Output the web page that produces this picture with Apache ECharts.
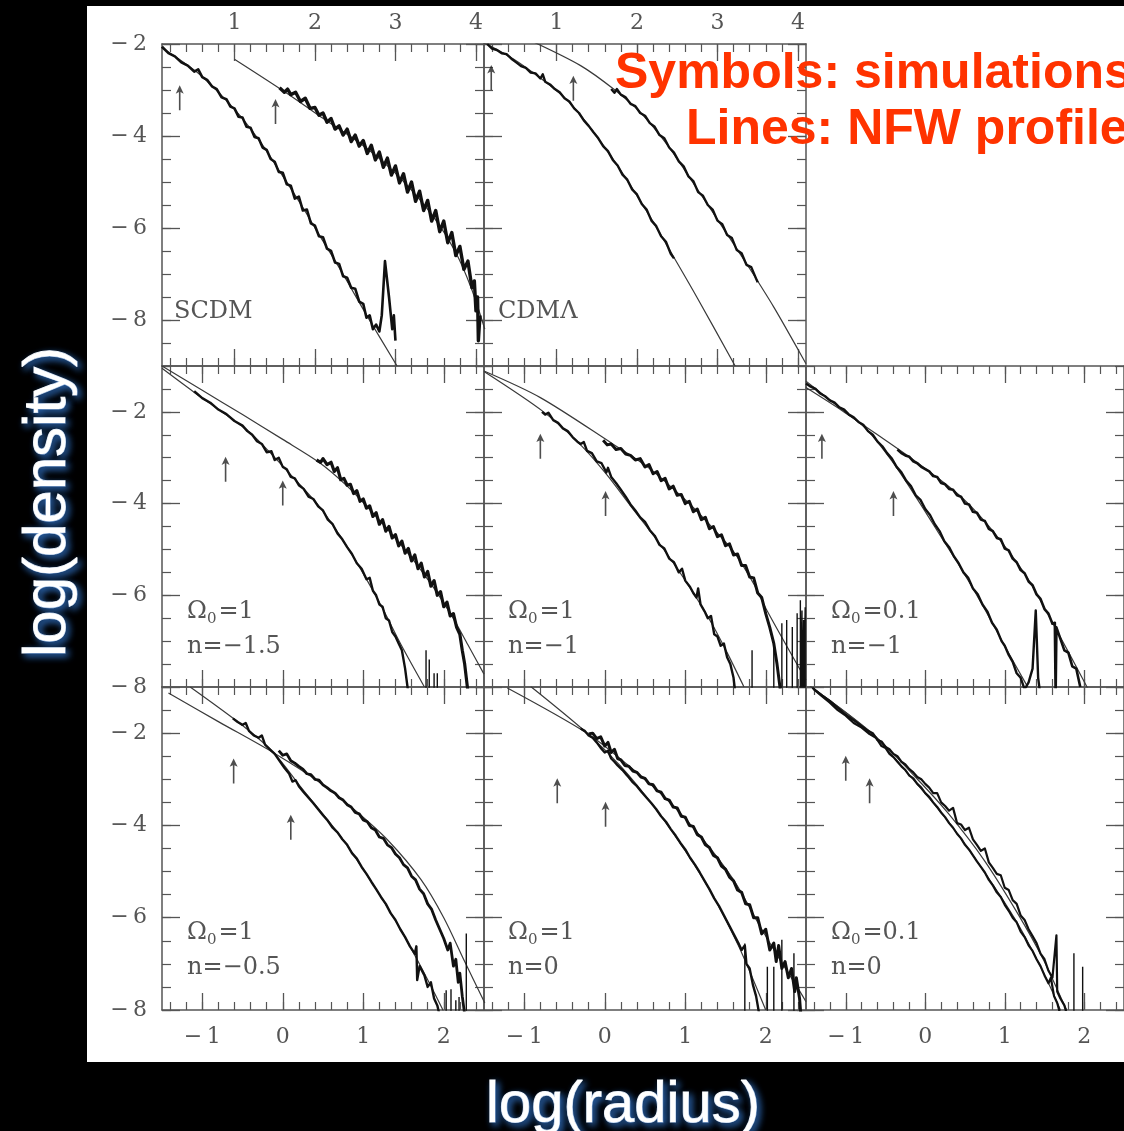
<!DOCTYPE html>
<html><head><meta charset="utf-8">
<script src="https://cdn.jsdelivr.net/npm/echarts@6/dist/echarts.min.js"></script>
<style>html,body{margin:0;padding:0;background:#000;}#c{width:1124px;height:1131px;}</style>
</head><body><div id="c"></div>
<script>
// ---------- tick labels ----------
const X_LABELS = [-1, 0, 1, 2];
const TOP_LABELS = [1, 2, 3, 4];
const Y_LABELS = [-8, -6, -4, -2];

// ---------- SCDM (top units on x) ----------
const scdmFitA = [[0.09,-2.07],[0.54,-2.62],[0.83,-3.1],[1.08,-3.58],[1.33,-4.15],[1.58,-4.82],[1.83,-5.5],[2.07,-6.2],[2.32,-6.92],[2.66,-7.95],[3.02,-9.0]];
const scdmSimA = [[0.1,-2.06],[0.18,-2.2],[0.26,-2.27],[0.34,-2.4],[0.42,-2.47],[0.5,-2.6],[0.55,-2.55],[0.6,-2.72],[0.66,-2.78],[0.72,-2.92],[0.78,-2.98],[0.84,-3.16],[0.9,-3.2],[0.95,-3.36],[1.0,-3.4],[1.05,-3.58],[1.1,-3.6],[1.15,-3.8],[1.2,-3.82],[1.25,-4.02],[1.3,-4.05],[1.35,-4.25],[1.4,-4.3],[1.45,-4.5],[1.5,-4.56],[1.55,-4.78],[1.6,-4.8],[1.65,-5.05],[1.7,-5.08],[1.75,-5.36],[1.8,-5.32],[1.85,-5.62],[1.9,-5.6],[1.95,-5.9],[2.0,-5.95],[2.05,-6.18],[2.1,-6.2],[2.15,-6.45],[2.2,-6.5],[2.25,-6.75],[2.3,-6.78],[2.35,-7.05],[2.4,-7.08],[2.45,-7.3],[2.5,-7.32],[2.55,-7.6],[2.6,-7.65],[2.64,-7.95],[2.68,-7.9],[2.72,-8.2],[2.76,-8.1],[2.8,-8.25],[2.83,-7.9],[2.87,-6.72],[2.92,-7.5],[2.96,-8.2],[2.98,-7.9],[3.0,-8.45]];
const scdmFitB = [[1.0,-2.33],[1.66,-3.08],[2.07,-3.58],[2.49,-4.07],[2.82,-4.52],[3.15,-5.08],[3.49,-5.8],[3.74,-6.5],[3.94,-7.3],[4.11,-8.2]];
const scdmSimB = [[1.56,-2.95],[1.62,-3.05],[1.66,-2.98],[1.7,-3.1],[1.76,-3.05],[1.82,-3.25],[1.88,-3.18],[1.94,-3.4],[2.0,-3.38],[2.05,-3.55],[2.1,-3.5],[2.15,-3.7],[2.2,-3.62],[2.25,-3.85],[2.3,-3.78],[2.35,-3.98],[2.4,-3.85],[2.45,-4.12],[2.5,-3.98],[2.55,-4.22],[2.6,-4.1],[2.65,-4.38],[2.7,-4.2],[2.75,-4.52],[2.8,-4.35],[2.85,-4.68],[2.9,-4.48],[2.95,-4.85],[3.0,-4.65],[3.05,-5.02],[3.1,-4.82],[3.15,-5.22],[3.2,-5.0],[3.25,-5.42],[3.3,-5.2],[3.35,-5.62],[3.4,-5.4],[3.45,-5.85],[3.5,-5.62],[3.55,-6.08],[3.6,-5.85],[3.65,-6.32],[3.7,-6.1],[3.75,-6.6],[3.8,-6.4],[3.85,-6.9],[3.9,-6.72],[3.95,-7.3],[3.98,-7.15],[4.0,-7.8],[4.02,-7.5],[4.03,-8.45],[4.05,-7.9]];
const scdmArrows = [[0.32,-3.17],[1.51,-3.47]];

// ---------- CDM-Lambda (top units on x) ----------
const cdmlFitA = [[0.1,-1.97],[0.47,-2.33],[0.8,-2.74],[1.09,-3.15],[1.3,-3.55],[1.58,-4.2],[1.84,-4.86],[2.13,-5.66],[2.46,-6.64],[2.75,-7.52],[3.22,-9.0]];
const cdmlSimA = [[0.14,-2.0],[0.2,-2.1],[0.26,-2.13],[0.32,-2.2],[0.38,-2.22],[0.44,-2.32],[0.5,-2.4],[0.56,-2.48],[0.62,-2.52],[0.68,-2.62],[0.74,-2.64],[0.8,-2.75],[0.83,-2.66],[0.86,-2.82],[0.92,-2.88],[0.98,-2.98],[1.04,-3.05],[1.1,-3.18],[1.16,-3.25],[1.22,-3.4],[1.28,-3.5],[1.34,-3.66],[1.4,-3.78],[1.46,-3.92],[1.52,-4.05],[1.58,-4.22],[1.64,-4.33],[1.7,-4.52],[1.76,-4.64],[1.82,-4.84],[1.88,-4.95],[1.94,-5.16],[2.0,-5.27],[2.06,-5.48],[2.12,-5.6],[2.18,-5.84],[2.24,-5.96],[2.3,-6.18],[2.36,-6.3],[2.42,-6.56],[2.46,-6.66]];
const cdmlFitB = [[0.72,-1.96],[1.3,-2.47],[1.71,-2.98],[2.05,-3.5],[2.38,-4.2],[2.71,-5.05],[3.04,-5.92],[3.37,-6.8],[3.7,-7.72],[4.02,-8.7],[4.1,-8.95]];
const cdmlSimB = [[1.68,-2.98],[1.72,-3.06],[1.75,-2.98],[1.8,-3.1],[1.86,-3.16],[1.92,-3.3],[1.98,-3.35],[2.04,-3.5],[2.1,-3.56],[2.16,-3.72],[2.22,-3.8],[2.28,-3.98],[2.34,-4.05],[2.4,-4.25],[2.46,-4.36],[2.52,-4.55],[2.58,-4.66],[2.64,-4.88],[2.7,-4.98],[2.76,-5.22],[2.82,-5.3],[2.88,-5.5],[2.94,-5.6],[3.0,-5.84],[3.06,-5.92],[3.12,-6.15],[3.18,-6.22],[3.24,-6.48],[3.3,-6.55],[3.36,-6.8],[3.42,-6.85],[3.48,-7.1],[3.5,-7.18]];
const cdmlArrows = [[0.19,-2.73],[1.21,-2.96]];

// ---------- Omega0=1, n=-1.5 ----------
const m15FitOut = [[-1.5,-1.0],[-1.0,-1.53],[-0.5,-2.06],[0,-2.6],[0.45,-3.1],[0.8,-3.62],[1.09,-4.15],[1.38,-4.72],[1.63,-5.25],[1.88,-5.85],[2.1,-6.45],[2.3,-7.08],[2.5,-7.72]];
const m15SimOut = [[0.42,-3.05],[0.47,-3.1],[0.5,-3.02],[0.55,-3.15],[0.6,-3.1],[0.64,-3.3],[0.68,-3.22],[0.72,-3.48],[0.76,-3.45],[0.8,-3.6],[0.84,-3.58],[0.88,-3.78],[0.92,-3.72],[0.96,-3.95],[1.0,-3.9],[1.04,-4.1],[1.08,-4.05],[1.12,-4.28],[1.16,-4.2],[1.2,-4.45],[1.24,-4.35],[1.28,-4.6],[1.32,-4.5],[1.36,-4.75],[1.4,-4.68],[1.44,-4.92],[1.48,-4.82],[1.52,-5.08],[1.56,-4.98],[1.6,-5.25],[1.64,-5.12],[1.68,-5.42],[1.72,-5.3],[1.76,-5.6],[1.8,-5.48],[1.84,-5.8],[1.88,-5.68],[1.92,-6.0],[1.96,-5.92],[2.0,-6.25],[2.04,-6.15],[2.08,-6.45],[2.12,-6.4],[2.16,-6.7],[2.2,-6.85],[2.23,-7.2],[2.26,-7.5],[2.28,-7.8],[2.3,-8.1]];
const m15FitIn = [[-1.5,-1.05],[-1.11,-1.56],[-0.44,-2.4],[-0.19,-2.83],[0.06,-3.3],[0.47,-4.1],[0.89,-5.2],[1.22,-6.22],[1.47,-7.08],[1.76,-8.0]];
const m15SimIn = [[-1.1,-1.55],[-1.0,-1.7],[-0.9,-1.8],[-0.8,-1.95],[-0.7,-2.05],[-0.6,-2.2],[-0.5,-2.3],[-0.44,-2.42],[-0.38,-2.5],[-0.32,-2.64],[-0.26,-2.7],[-0.2,-2.88],[-0.14,-2.86],[-0.1,-3.05],[-0.05,-3.0],[0.0,-3.2],[0.05,-3.25],[0.1,-3.42],[0.15,-3.45],[0.2,-3.6],[0.26,-3.68],[0.32,-3.85],[0.38,-3.9],[0.44,-4.06],[0.5,-4.15],[0.56,-4.35],[0.62,-4.45],[0.68,-4.65],[0.74,-4.78],[0.8,-4.95],[0.86,-5.1],[0.92,-5.3],[0.98,-5.42],[1.04,-5.65],[1.08,-5.62],[1.12,-5.9],[1.16,-6.0],[1.2,-6.2],[1.24,-6.25],[1.28,-6.5],[1.32,-6.55],[1.36,-6.8],[1.4,-6.9],[1.44,-7.05],[1.48,-7.2],[1.52,-7.6],[1.55,-8.0],[1.58,-8.4]];
const m15Spikes = [[1.78,-7.2],[1.82,-7.4],[1.88,-7.7],[1.92,-7.7]];
const m15Arrows = [[-0.71,-3.25],[0.0,-3.77]];

// ---------- Omega0=1, n=-1 ----------
const m10FitOut = [[-1.5,-1.11],[-0.8,-1.69],[0.1,-2.7],[0.53,-3.2],[1.02,-3.95],[1.35,-4.55],[1.6,-5.05],[1.85,-5.75],[2.02,-6.35],[2.5,-7.85]];
const m10SimOut = [[-0.02,-2.62],[0.03,-2.72],[0.08,-2.7],[0.14,-2.82],[0.2,-2.8],[0.26,-2.92],[0.32,-2.95],[0.38,-3.05],[0.44,-3.02],[0.5,-3.2],[0.55,-3.15],[0.6,-3.35],[0.65,-3.3],[0.7,-3.5],[0.75,-3.45],[0.8,-3.68],[0.85,-3.62],[0.9,-3.82],[0.95,-3.8],[1.0,-4.0],[1.05,-3.95],[1.1,-4.18],[1.15,-4.12],[1.2,-4.35],[1.25,-4.3],[1.3,-4.55],[1.35,-4.5],[1.4,-4.72],[1.45,-4.68],[1.5,-4.92],[1.55,-4.88],[1.6,-5.12],[1.65,-5.1],[1.7,-5.35],[1.75,-5.35],[1.8,-5.6],[1.85,-5.62],[1.9,-5.95],[1.95,-6.05],[2.0,-6.4],[2.05,-6.7],[2.1,-7.05],[2.14,-7.5],[2.18,-8.05]];
const m10FitIn = [[-1.5,-1.12],[-0.76,-2.0],[-0.3,-2.72],[0.03,-3.38],[0.32,-4.05],[0.65,-4.8],[0.94,-5.52],[1.19,-6.2],[1.35,-6.68],[1.52,-7.25],[1.73,-8.0]];
const m10SimIn = [[-0.78,-2.0],[-0.74,-2.06],[-0.7,-2.02],[-0.64,-2.18],[-0.58,-2.24],[-0.52,-2.36],[-0.46,-2.42],[-0.4,-2.55],[-0.34,-2.65],[-0.3,-2.7],[-0.26,-2.66],[-0.22,-2.85],[-0.16,-2.9],[-0.1,-3.08],[-0.04,-3.12],[0.02,-3.32],[0.04,-3.22],[0.08,-3.42],[0.14,-3.55],[0.2,-3.7],[0.26,-3.85],[0.32,-4.02],[0.38,-4.15],[0.44,-4.3],[0.5,-4.4],[0.56,-4.58],[0.62,-4.7],[0.68,-4.9],[0.74,-4.98],[0.8,-5.2],[0.86,-5.28],[0.92,-5.5],[0.96,-5.42],[1.0,-5.68],[1.06,-5.82],[1.1,-5.95],[1.14,-6.05],[1.16,-5.85],[1.19,-6.2],[1.24,-6.35],[1.28,-6.5],[1.32,-6.45],[1.36,-6.85],[1.4,-6.9],[1.44,-7.1],[1.48,-7.05],[1.52,-7.35],[1.56,-7.5],[1.6,-7.8],[1.62,-8.1]];
const m10Spikes = [[1.83,-7.2],[2.1,-7.05],[2.2,-6.61],[2.26,-6.54],[2.33,-6.69],[2.39,-6.39],[2.43,-6.11],[2.45,-6.33],[2.47,-6.54],[2.49,-6.26]];
const m10Arrows = [[-0.8,-2.75],[0.01,-4.0]];

// ---------- Omega0=0.1, n=-1 ----------
const l10FitOut = [[-1.5,-1.47],[-1.04,-1.98],[-0.6,-2.5],[-0.13,-3.07],[0.41,-3.79],[0.74,-4.37],[1.07,-5.09],[1.32,-5.72],[1.57,-6.5],[1.82,-7.3],[2.05,-8.05]];
const l10SimOut = [[-0.35,-2.82],[-0.3,-2.9],[-0.25,-2.95],[-0.2,-2.98],[-0.15,-3.08],[-0.1,-3.12],[-0.05,-3.2],[0.0,-3.25],[0.05,-3.3],[0.1,-3.4],[0.15,-3.42],[0.2,-3.55],[0.25,-3.58],[0.3,-3.68],[0.35,-3.7],[0.4,-3.82],[0.45,-3.85],[0.5,-4.0],[0.55,-4.02],[0.6,-4.18],[0.65,-4.2],[0.7,-4.35],[0.75,-4.38],[0.8,-4.55],[0.85,-4.6],[0.9,-4.75],[0.95,-4.78],[1.0,-4.98],[1.05,-5.02],[1.1,-5.2],[1.15,-5.28],[1.2,-5.45],[1.25,-5.52],[1.3,-5.7],[1.35,-5.78],[1.4,-5.98],[1.45,-6.08],[1.5,-6.3],[1.55,-6.4],[1.6,-6.62],[1.63,-6.6],[1.64,-8.2],[1.65,-6.7],[1.7,-6.95],[1.75,-7.2],[1.8,-7.25],[1.85,-7.55],[1.9,-7.6],[1.95,-8.0]];
const l10FitIn = [[-1.5,-1.33],[-1.04,-1.96],[-0.75,-2.36],[-0.42,-3.07],[-0.09,-3.93],[0.2,-4.73],[0.49,-5.53],[0.78,-6.4],[1.03,-7.2],[1.24,-7.85],[1.29,-8.0]];
const l10SimIn = [[-1.5,-1.38],[-1.44,-1.45],[-1.38,-1.5],[-1.32,-1.6],[-1.26,-1.66],[-1.2,-1.75],[-1.14,-1.8],[-1.08,-1.9],[-1.02,-1.95],[-0.96,-2.06],[-0.9,-2.12],[-0.84,-2.22],[-0.78,-2.28],[-0.72,-2.42],[-0.66,-2.5],[-0.6,-2.65],[-0.54,-2.75],[-0.48,-2.9],[-0.42,-3.02],[-0.36,-3.2],[-0.3,-3.32],[-0.24,-3.5],[-0.18,-3.62],[-0.12,-3.82],[-0.06,-3.92],[0.0,-4.12],[0.06,-4.25],[0.12,-4.45],[0.18,-4.6],[0.24,-4.82],[0.3,-4.95],[0.36,-5.15],[0.42,-5.3],[0.48,-5.5],[0.54,-5.62],[0.6,-5.85],[0.66,-5.98],[0.72,-6.2],[0.78,-6.35],[0.84,-6.6],[0.9,-6.75],[0.96,-7.0],[1.0,-7.1],[1.05,-7.3],[1.1,-7.45],[1.15,-7.7],[1.2,-7.8],[1.25,-8.05],[1.3,-7.9],[1.35,-7.6],[1.39,-6.33],[1.42,-7.8],[1.45,-8.2]];
const l10Spikes = [];
const l10Arrows = [[-1.3,-2.75],[-0.4,-4.0]];

// ---------- Omega0=1, n=-0.5 ----------
const m05FitOut = [[-1.42,-1.13],[-0.8,-1.75],[-0.11,-2.43],[0.47,-3.08],[0.89,-3.66],[1.3,-4.31],[1.72,-5.18],[2.0,-6.0],[2.26,-6.95],[2.51,-7.85]];
const m05SimOut = [[-0.05,-2.38],[0.0,-2.48],[0.05,-2.45],[0.1,-2.6],[0.15,-2.65],[0.2,-2.72],[0.25,-2.78],[0.3,-2.88],[0.35,-2.9],[0.4,-3.0],[0.45,-3.02],[0.5,-3.12],[0.55,-3.18],[0.6,-3.25],[0.65,-3.3],[0.7,-3.4],[0.75,-3.45],[0.8,-3.55],[0.85,-3.6],[0.9,-3.72],[0.95,-3.75],[1.0,-3.88],[1.05,-3.92],[1.1,-4.05],[1.15,-4.1],[1.2,-4.25],[1.25,-4.28],[1.3,-4.42],[1.35,-4.48],[1.4,-4.62],[1.45,-4.7],[1.5,-4.85],[1.55,-4.92],[1.6,-5.1],[1.65,-5.18],[1.7,-5.38],[1.75,-5.48],[1.8,-5.7],[1.85,-5.82],[1.9,-6.05],[1.95,-6.25],[2.0,-6.45],[2.05,-6.7],[2.08,-6.55],[2.12,-7.05],[2.15,-6.9],[2.18,-7.4],[2.2,-7.2],[2.23,-7.7],[2.26,-8.1]];
const m05FitIn = [[-1.15,-1.0],[-0.48,-1.86],[-0.11,-2.43],[0.22,-3.16],[0.72,-4.24],[1.14,-5.33],[1.47,-6.27],[1.76,-7.21],[1.97,-7.93],[2.0,-8.05]];
const m05SimIn = [[-0.62,-1.68],[-0.56,-1.76],[-0.5,-1.82],[-0.46,-1.78],[-0.42,-1.95],[-0.36,-2.05],[-0.3,-2.1],[-0.26,-2.05],[-0.22,-2.25],[-0.16,-2.35],[-0.1,-2.45],[-0.04,-2.6],[0.02,-2.75],[0.08,-2.88],[0.12,-3.05],[0.16,-3.02],[0.2,-3.15],[0.26,-3.28],[0.32,-3.4],[0.38,-3.52],[0.44,-3.65],[0.5,-3.78],[0.56,-3.9],[0.62,-4.05],[0.68,-4.15],[0.74,-4.3],[0.8,-4.42],[0.86,-4.6],[0.92,-4.72],[0.98,-4.9],[1.04,-5.05],[1.1,-5.22],[1.16,-5.38],[1.22,-5.55],[1.28,-5.7],[1.34,-5.9],[1.4,-6.05],[1.46,-6.25],[1.52,-6.42],[1.58,-6.62],[1.64,-6.78],[1.66,-6.62],[1.67,-7.35],[1.7,-7.05],[1.76,-7.25],[1.8,-7.5],[1.84,-7.4],[1.88,-7.75],[1.92,-7.9],[1.96,-8.2]];
const m05Spikes = [[2.03,-7.57],[2.09,-7.55],[2.15,-7.79],[2.19,-7.72],[2.28,-6.34]];
const m05Arrows = [[-0.61,-2.82],[0.1,-4.04]];

// ---------- Omega0=1, n=0 ----------
const m00FitOut = [[-1.21,-1.02],[-0.22,-2.0],[0.28,-2.68],[0.78,-3.45],[1.19,-4.24],[1.6,-5.18],[1.93,-6.19],[2.18,-6.92],[2.39,-7.5],[2.5,-7.82]];
const m00SimOut = [[-0.2,-2.02],[-0.15,-2.0],[-0.1,-2.12],[-0.05,-2.08],[0.0,-2.28],[0.04,-2.2],[0.08,-2.42],[0.12,-2.35],[0.16,-2.55],[0.2,-2.58],[0.25,-2.7],[0.3,-2.72],[0.35,-2.82],[0.4,-2.85],[0.45,-2.95],[0.5,-2.98],[0.55,-3.1],[0.6,-3.12],[0.65,-3.25],[0.7,-3.28],[0.75,-3.42],[0.8,-3.45],[0.85,-3.6],[0.9,-3.62],[0.95,-3.8],[1.0,-3.82],[1.05,-4.0],[1.1,-4.02],[1.15,-4.2],[1.2,-4.25],[1.25,-4.42],[1.3,-4.48],[1.35,-4.65],[1.4,-4.7],[1.45,-4.88],[1.5,-4.95],[1.55,-5.12],[1.6,-5.2],[1.65,-5.4],[1.7,-5.45],[1.75,-5.7],[1.8,-5.72],[1.85,-6.0],[1.9,-6.0],[1.95,-6.35],[2.0,-6.25],[2.05,-6.7],[2.1,-6.55],[2.13,-6.95],[2.16,-6.6],[2.2,-7.1],[2.24,-6.95],[2.28,-7.3],[2.32,-7.1],[2.36,-7.6],[2.38,-7.3],[2.42,-7.75],[2.44,-8.2]];
const m00FitIn = [[-0.92,-0.99],[-0.22,-2.0],[0.2,-2.72],[0.61,-3.59],[1.02,-4.6],[1.35,-5.54],[1.66,-6.6],[2.0,-8.0]];
const m00SimIn = [[-0.3,-1.9],[-0.25,-1.95],[-0.2,-2.05],[-0.15,-2.1],[-0.1,-2.2],[-0.05,-2.32],[0.0,-2.42],[0.04,-2.38],[0.08,-2.55],[0.12,-2.62],[0.16,-2.7],[0.22,-2.8],[0.28,-2.92],[0.34,-3.05],[0.4,-3.15],[0.46,-3.28],[0.52,-3.4],[0.58,-3.52],[0.64,-3.65],[0.7,-3.8],[0.76,-3.92],[0.82,-4.08],[0.88,-4.22],[0.94,-4.38],[1.0,-4.52],[1.06,-4.7],[1.12,-4.85],[1.18,-5.02],[1.24,-5.2],[1.3,-5.38],[1.36,-5.58],[1.42,-5.75],[1.48,-5.95],[1.54,-6.15],[1.6,-6.35],[1.66,-6.55],[1.7,-6.7],[1.74,-6.6],[1.76,-7.0],[1.8,-7.1],[1.84,-7.45],[1.88,-7.7],[1.92,-8.1]];
const m00Spikes = [[1.74,-6.56],[2.02,-7.06],[2.1,-7.06],[2.2,-6.48],[2.35,-6.77]];
const m00Arrows = [[-0.59,-3.25],[0.01,-3.76]];

// ---------- Omega0=0.1, n=0 ----------
const l00FitA = [[-1.45,-0.98],[-0.67,-2.0],[-0.13,-2.94],[0.29,-3.74],[0.74,-4.75],[1.16,-5.9],[1.49,-6.92],[1.74,-7.86],[1.78,-8.0]];
const l00SimA = [[-1.42,-1.02],[-1.3,-1.18],[-1.2,-1.3],[-1.1,-1.45],[-1.0,-1.6],[-0.9,-1.72],[-0.8,-1.85],[-0.72,-1.95],[-0.66,-2.0],[-0.6,-2.15],[-0.55,-2.18],[-0.5,-2.3],[-0.45,-2.35],[-0.4,-2.45],[-0.35,-2.5],[-0.3,-2.62],[-0.25,-2.68],[-0.2,-2.78],[-0.15,-2.85],[-0.1,-2.95],[-0.05,-3.0],[0.0,-3.1],[0.05,-3.18],[0.1,-3.3],[0.15,-3.3],[0.2,-3.5],[0.25,-3.58],[0.3,-3.68],[0.35,-3.62],[0.4,-3.95],[0.45,-3.98],[0.5,-4.1],[0.55,-4.05],[0.6,-4.3],[0.65,-4.42],[0.7,-4.55],[0.75,-4.5],[0.8,-4.8],[0.85,-4.92],[0.9,-5.05],[0.95,-5.08],[1.0,-5.35],[1.05,-5.4],[1.1,-5.62],[1.15,-5.7],[1.2,-5.95],[1.25,-6.05],[1.3,-6.25],[1.35,-6.4],[1.4,-6.55],[1.45,-6.78],[1.5,-6.9],[1.55,-7.15],[1.6,-7.3],[1.65,-6.38],[1.66,-7.6],[1.7,-7.75],[1.75,-7.9],[1.8,-8.2]];
const l00FitB = [[-1.45,-0.98],[-0.67,-2.02],[-0.13,-3.05],[0.29,-3.92],[0.74,-5.0],[1.16,-6.12],[1.49,-7.2],[1.7,-8.0]];
const l00SimB = [[-1.4,-1.05],[-1.3,-1.2],[-1.2,-1.34],[-1.1,-1.5],[-1.0,-1.62],[-0.9,-1.78],[-0.8,-1.88],[-0.7,-2.02],[-0.62,-2.1],[-0.55,-2.28],[-0.5,-2.32],[-0.45,-2.45],[-0.4,-2.52],[-0.35,-2.62],[-0.3,-2.72],[-0.25,-2.8],[-0.2,-2.92],[-0.15,-2.98],[-0.1,-3.1],[-0.05,-3.18],[0.0,-3.3],[0.05,-3.38],[0.1,-3.5],[0.15,-3.6],[0.2,-3.72],[0.25,-3.82],[0.3,-3.95],[0.35,-4.05],[0.4,-4.18],[0.45,-4.28],[0.5,-4.42],[0.55,-4.52],[0.6,-4.65],[0.65,-4.78],[0.7,-4.9],[0.75,-5.02],[0.8,-5.18],[0.85,-5.3],[0.9,-5.45],[0.95,-5.55],[1.0,-5.72],[1.05,-5.85],[1.1,-6.0],[1.15,-6.1],[1.2,-6.3],[1.25,-6.42],[1.3,-6.6],[1.35,-6.72],[1.4,-6.9],[1.45,-7.05],[1.5,-7.25],[1.55,-7.42],[1.58,-7.3],[1.62,-7.7],[1.66,-7.85],[1.7,-8.1]];
const l00Spikes = [[1.87,-6.77],[1.98,-7.06]];
const l00Arrows = [[-1.0,-2.76],[-0.7,-3.25]];

// ---------- layout ----------
const COL_LEFT = [162, 484, 806], COL_W = 322;
const ROW_TOP = [44, 366, 687], ROW_H = [322, 321, 323];
// band: line width for the noisy simulation curves (inner, outer)
const PANELS = [
  {r:0,c:0,x:[0.1,4.1],y:[-9,-2],sims:[scdmSimA,scdmSimB],band:[2.6,3.4],fits:[scdmFitA,scdmFitB],arrows:scdmArrows,spikes:[],name:'SCDM'},
  {r:0,c:1,x:[0.1,4.1],y:[-9,-2],sims:[cdmlSimA,cdmlSimB],band:[2.4,2.4],fits:[cdmlFitA,cdmlFitB],arrows:cdmlArrows,spikes:[],name:'CDMΛ'},
  {r:1,c:0,x:[-1.5,2.5],y:[-8,-1],sims:[m15SimIn,m15SimOut],band:[2.4,3.2],fits:[m15FitIn,m15FitOut],arrows:m15Arrows,spikes:m15Spikes,om:'1',n:'−1.5'},
  {r:1,c:1,x:[-1.5,2.5],y:[-8,-1],sims:[m10SimIn,m10SimOut],band:[2.4,3.0],fits:[m10FitIn,m10FitOut],arrows:m10Arrows,spikes:m10Spikes,om:'1',n:'−1'},
  {r:1,c:2,x:[-1.5,2.5],y:[-8,-1],sims:[l10SimIn,l10SimOut],band:[2.4,2.6],fits:[l10FitIn,l10FitOut],arrows:l10Arrows,spikes:l10Spikes,om:'0.1',n:'−1'},
  {r:2,c:0,x:[-1.5,2.5],y:[-8,-1],sims:[m05SimIn,m05SimOut],band:[2.4,2.8],fits:[m05FitIn,m05FitOut],arrows:m05Arrows,spikes:m05Spikes,om:'1',n:'−0.5'},
  {r:2,c:1,x:[-1.5,2.5],y:[-8,-1],sims:[m00SimIn,m00SimOut],band:[2.4,3.0],fits:[m00FitIn,m00FitOut],arrows:m00Arrows,spikes:m00Spikes,om:'1',n:'0'},
  {r:2,c:2,x:[-1.5,2.5],y:[-8,-1],sims:[l00SimA,l00SimB],band:[2.2,2.2],fits:[l00FitA,l00FitB],arrows:l00Arrows,spikes:l00Spikes,om:'0.1',n:'0'}
];

const FRAME = '#555';
const LABEL_FONT = 'DejaVu Serif';
function fmt(v){ return v < 0 ? '−\u2009' + (-v) : String(v); }
function stepVals(a, b, step){ const out=[]; const s=Math.ceil(a/step-1e-9); for(let k=s; k*step<=b+1e-9; k++){ out.push(+(k*step).toFixed(4)); } return out; }

const grids=[], xAxes=[], yAxes=[], series=[], graphics=[];
graphics.push({type:'rect', z:-100, shape:{x:87,y:6,width:1037,height:1056}, style:{fill:'#fff'}});

PANELS.forEach((p,i)=>{
  grids.push({left:COL_LEFT[p.c], top:ROW_TOP[p.r], width:COL_W, height:ROW_H[p.r], containLabel:false});
  const xMajor = stepVals(p.x[0], p.x[1], 1), xMinor = stepVals(p.x[0], p.x[1], 0.2);
  const yMajor = stepVals(p.y[0], p.y[1], 2), yMinor = stepVals(p.y[0], p.y[1], 0.5);
  const lab = {fontFamily:LABEL_FONT, fontSize:22, color:'#555'};
  ['bottom','top'].forEach(pos=>{
    const showLab = (pos==='bottom' && p.r===2) || (pos==='top' && p.r===0);
    xAxes.push({gridIndex:i, type:'value', position:pos, min:p.x[0], max:p.x[1],
      axisLine:{show:true,onZero:false,lineStyle:{color:FRAME,width:1.5}},
      axisTick:{show:true,inside:true,length:17,customValues:xMajor,lineStyle:{color:FRAME,width:1.3}},
      axisLabel:Object.assign({show:showLab, customValues: pos==='top'?TOP_LABELS:X_LABELS, formatter:fmt, margin: pos==='top'?10:16}, lab),
      splitLine:{show:false}});
    xAxes.push({gridIndex:i, type:'value', position:pos, min:p.x[0], max:p.x[1],
      axisLine:{show:false,onZero:false},
      axisTick:{show:true,inside:true,length:8,customValues:xMinor,lineStyle:{color:FRAME,width:1.2}},
      axisLabel:{show:false}, splitLine:{show:false}});
  });
  ['left','right'].forEach(pos=>{
    const showLab = (pos==='left' && p.c===0);
    yAxes.push({gridIndex:i, type:'value', position:pos, min:p.y[0], max:p.y[1],
      axisLine:{show:true,onZero:false,lineStyle:{color:FRAME,width:1.5}},
      axisTick:{show:true,inside:true,length:18,customValues:yMajor,lineStyle:{color:FRAME,width:1.3}},
      axisLabel:Object.assign({show:showLab, customValues:Y_LABELS, formatter:fmt, margin:15}, lab),
      splitLine:{show:false}});
    yAxes.push({gridIndex:i, type:'value', position:pos, min:p.y[0], max:p.y[1],
      axisLine:{show:false,onZero:false},
      axisTick:{show:true,inside:true,length:9,customValues:yMinor,lineStyle:{color:FRAME,width:1.2}},
      axisLabel:{show:false}, splitLine:{show:false}});
  });
  const xi = 4*i, yi = 4*i;
  p.fits.forEach(f=>series.push({type:'line', xAxisIndex:xi, yAxisIndex:yi, data:f, smooth:0.3, symbol:'none',
    lineStyle:{color:'#3a3a3a', width:1.2}, z:3, silent:true}));
  p.sims.forEach((s,k)=>series.push({type:'line', xAxisIndex:xi, yAxisIndex:yi, data:s, symbol:'none',
    lineStyle:{color:'#111', width:p.band[k], join:'round'}, z:4, silent:true}));
  if (p.spikes.length){
    const low = p.y[0]-0.5, d=[];
    p.spikes.forEach(s=>{ d.push([s[0],low]); d.push([s[0],s[1]]); d.push([s[0],low]); });
    series.push({type:'line', xAxisIndex:xi, yAxisIndex:yi, data:d, symbol:'none', lineStyle:{color:'#111', width:1.4}, z:4, silent:true});
  }
  series.push({type:'scatter', xAxisIndex:xi, yAxisIndex:yi, data:p.arrows,
    symbol:'path://M5,0 L10,10 L6,8 L6,30 L4,30 L4,8 L0,10 Z', symbolSize:[8,25],
    itemStyle:{color:'#222'}, z:5, silent:true});

  // panel annotation
  const lx = COL_LEFT[p.c] + (p.c===1 ? 24 : 25);
  if (p.name){
    graphics.push({type:'text', z:50, x: COL_LEFT[p.c] + (p.c===0?12:14), y: ROW_TOP[p.r]+268,
      style:{text:p.name, font:'24px "DejaVu Serif"', fill:'#555', textAlign:'left', textVerticalAlign:'middle', align:'left', verticalAlign:'middle'}});
  } else {
    const base = ROW_TOP[p.r];
    graphics.push({type:'text', z:50, x: lx, y: base+246,
      style:{text:'{a|Ω}{s|0}{a|=' + p.om + '}', fill:'#555', textAlign:'left', textVerticalAlign:'middle', align:'left', verticalAlign:'middle',
        rich:{a:{fontFamily:'DejaVu Serif', fontSize:24, color:'#555', lineHeight:30, verticalAlign:'middle'},
              s:{fontFamily:'DejaVu Serif', fontSize:15, color:'#555', lineHeight:30, verticalAlign:'bottom', padding:[0,2,0,0]}}}});
    graphics.push({type:'text', z:50, x: lx, y: base+281,
      style:{text:'n=' + p.n, font:'24px "DejaVu Serif"', fill:'#555', textAlign:'left', textVerticalAlign:'middle', align:'left', verticalAlign:'middle'}});
  }
});

// red annotation
graphics.push({type:'text', z:60, x:615, y:74, style:{text:'Symbols: simulations', font:'bold 50px "Liberation Sans"', fill:'#ff3300', textAlign:'left', textVerticalAlign:'middle', align:'left', verticalAlign:'middle'}});
graphics.push({type:'text', z:60, x:686, y:130, style:{text:'Lines: NFW profile', font:'bold 50px "Liberation Sans"', fill:'#ff3300', textAlign:'left', textVerticalAlign:'middle', align:'left', verticalAlign:'middle'}});
// axis titles
const titleStyle = {fill:'#fff', stroke:'#fff', lineWidth:1, textAlign:'center', textVerticalAlign:'middle', align:'center', verticalAlign:'middle',
  textShadowColor:'#2f6fc0', textShadowBlur:7, textShadowOffsetX:3, textShadowOffsetY:3,
  shadowColor:'#2f6fc0', shadowBlur:7, shadowOffsetX:3, shadowOffsetY:3};
graphics.push({type:'text', z:60, x:48, y:502, rotation:Math.PI/2, style:Object.assign({text:'log(density)', font:'60px "Liberation Sans"'}, titleStyle)});
graphics.push({type:'text', z:60, x:623, y:1106, style:Object.assign({text:'log(radius)', font:'58px "Liberation Sans"'}, titleStyle)});

const chart = echarts.init(document.getElementById('c'), null, {renderer:'canvas'});
chart.setOption({backgroundColor:'#000', animation:false, grid:grids, xAxis:xAxes, yAxis:yAxes, series:series, graphic:graphics});
</script>
</body></html>
